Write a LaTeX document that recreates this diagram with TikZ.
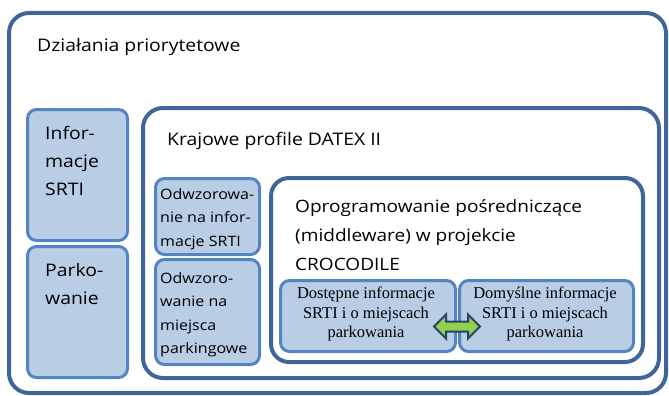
\documentclass[tikz,border=0pt]{standalone}
\usepackage{fontspec}
\setmainfont{Liberation Serif}
\setsansfont{Open Sans}[FakeStretch=1.12]
\definecolor{frameblue}{RGB}{62,102,153}
\definecolor{boxblue}{RGB}{185,205,229}
\definecolor{edgeblue}{RGB}{84,132,196}
\definecolor{arrowgreen}{RGB}{146,208,80}
\definecolor{arrowedge}{RGB}{40,66,100}

\begin{document}
\begin{tikzpicture}[x=1pt,y=-1pt,
  frame node/.style={draw=frameblue, line width=4pt, rounded corners=20pt,
    anchor=north west, inner sep=0pt},
  blue node/.style={draw=edgeblue, fill=boxblue, line width=3pt,
    rounded corners=9pt, anchor=north west, inner sep=0pt},
  big text/.style={anchor=north west, align=left, inner sep=0pt,
    font=\sffamily\fontsize{17.3}{28}\selectfont},
  small text/.style={anchor=north west, align=left, inner sep=0pt,
    font=\sffamily\fontsize{14.3}{23.5}\selectfont},
  serif text/.style={anchor=north, align=center, inner sep=0pt,
    font=\rmfamily\fontsize{16.5}{19.5}\selectfont}]
  \useasboundingbox (0,0) rectangle (669,396);

  % frames
  \node[frame node, minimum width=657pt, minimum height=380pt] (prio) at (7,11) {};
  \node[frame node, minimum width=516pt, minimum height=270pt] (datex) at (141,106) {};
  \node[frame node, minimum width=372pt, minimum height=184pt, rounded corners=18pt] (middle) at (269,176) {};

  % blue boxes
  \node[blue node, minimum width=100pt, minimum height=131pt] (srti) at (26,108) {};
  \node[blue node, minimum width=100pt, minimum height=131pt] (park) at (26,245) {};
  \node[blue node, minimum width=104pt, minimum height=76pt] (map1) at (154,177) {};
  \node[blue node, minimum width=104pt, minimum height=105pt] (map2) at (154,258) {};
  \node[blue node, minimum width=175pt, minimum height=71pt] (avail) at (279,279) {};
  \node[blue node, minimum width=174pt, minimum height=71pt] (default) at (458,279) {};

  % texts
  \node[big text] (prio label) at (37,38) {Działania priorytetowe};
  \node[big text] (srti label) at (45,126) {Infor-\\macje\\SRTI};
  \node[big text] (park label) at (45,263) {Parko-\\wanie};
  \node[big text] (datex label) at (167,132) {Krajowe profile DATEX II};
  \node[big text, font=\sffamily\fontsize{17}{29}\selectfont] (middle label) at (295,199)
    {Oprogramowanie pośredniczące\\(middleware) w projekcie\\CROCODILE};
  \node[small text] (map1 label) at (160,188) {Odwzorowa-\\nie na infor-\\macje SRTI};
  \node[small text] (map2 label) at (160,272) {Odwzoro-\\wanie na\\miejsca\\parkingowe};
  \node[serif text] (avail label) at (366,287) {Dostępne informacje\\SRTI i o miejscach\\parkowania};
  \node[serif text] (default label) at (545,287) {Domyślne informacje\\SRTI i o miejscach\\parkowania};

  % exchange arrow
  \coordinate (swap) at (457,326.5);
  \draw[draw=arrowedge, fill=arrowgreen, line width=2pt, shift={(swap)}]
    (-23,0) -- (-11,-12) -- (-11,-5) -- (11,-5) -- (11,-12) -- (23,0)
    -- (11,12) -- (11,5) -- (-11,5) -- (-11,12) -- cycle;
\end{tikzpicture}
\end{document}
